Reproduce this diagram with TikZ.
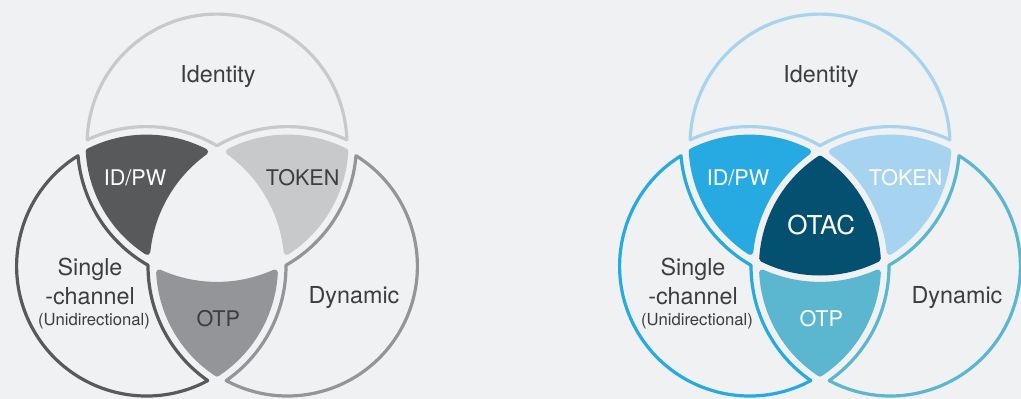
\documentclass[tikz,border=0pt]{standalone}
\usepackage{fontspec}
\setmainfont{TeX Gyre Heros}

\definecolor{bgc}{RGB}{240,241,243}
\definecolor{ink}{RGB}{61,61,63}
\definecolor{gdark}{RGB}{88,89,91}
\definecolor{gmid}{RGB}{147,149,152}
\definecolor{glight}{RGB}{200,201,203}
\definecolor{bblue}{RGB}{39,170,225}
\definecolor{bteal}{RGB}{91,182,207}
\definecolor{blight}{RGB}{166,211,239}
\definecolor{bnavy}{RGB}{3,80,112}

\tikzset{every picture/.style={line width=0.75pt}}
\tikzset{
  lobe/.style={draw=#1, line width=2.4pt, line join=round},
  piece/.style={draw=#1, fill=#1, line width=4.5pt, line join=round},
  lbl/.style={anchor=base, inner sep=0pt, text=ink, font=\fontsize{17.5}{21}\selectfont},
  piecelbl/.style={anchor=base, inner sep=0pt, font=\fontsize{16.2}{19}\selectfont},
  sublbl/.style={anchor=base, inner sep=0pt, text=ink, font=\fontsize{12.5}{15}\selectfont}
}

\begin{document}
\begin{tikzpicture}[x=0.75pt,y=0.75pt,yscale=-1,xscale=1]
    \fill[bgc] (0,0) rectangle (1021,399);
    \useasboundingbox (0,0) rectangle (1021,399);

    %Shape: Identity lobe (grey)
    \draw [lobe=glight] (87.17,139.85) arc [start angle=181.83, end angle=358.17, radius=129.9] arc [start angle=-64.83, end angle=-120.36, radius=139.5] arc [start angle=-59.64, end angle=-115.17, radius=139.5] -- cycle ;
    %Shape: Single-channel lobe (grey)
    \draw [lobe=gdark] (207.83,380.61) arc [start angle=61.83, end angle=238.17, radius=129.9] arc [start angle=175.17, end angle=119.64, radius=139.5] arc [start angle=180.36, end angle=124.83, radius=139.5] -- cycle ;
    %Shape: Dynamic lobe (grey)
    \draw [lobe=gmid] (356.00,155.73) arc [start angle=301.83, end angle=478.17, radius=129.9] arc [start angle=55.17, end angle=-0.36, radius=139.5] arc [start angle=60.36, end angle=4.83, radius=139.5] -- cycle ;
    %Shape: ID/PW piece (grey)
    \path [piece=gdark] (88.71,151.33) arc [start angle=-116.73, end angle=-62.84, radius=128.5] arc [start angle=234.24, end angle=185.76, radius=140.9] arc [start angle=122.84, end angle=176.73, radius=128.5] -- cycle ;
    %Shape: TOKEN piece (grey)
    \path [piece=glight] (345.29,151.33) arc [start angle=3.27, end angle=57.16, radius=128.5] arc [start angle=354.24, end angle=305.76, radius=140.9] arc [start angle=242.84, end angle=296.73, radius=128.5] -- cycle ;
    %Shape: OTP piece (grey)
    \path [piece=gmid] (217,373.53) arc [start angle=123.27, end angle=177.16, radius=128.5] arc [start angle=114.24, end angle=65.76, radius=140.9] arc [start angle=2.84, end angle=56.73, radius=128.5] -- cycle ;

    % Text Node
    \node [lbl] (identA) at (218,82.7) {Identity};
    % Text Node
    \node [piecelbl, text=white] (idpwA) at (135,185.3) {ID/PW};
    % Text Node
    \node [piecelbl, text=ink] (tokenA) at (302.7,185.7) {TOKEN};
    % Text Node
    \node [piecelbl, text=ink] (otpA) at (218.3,326) {OTP};
    % Text Node
    \node [lbl] (dynA) at (354,303.3) {Dynamic};
    % Text Node
    \node [lbl] (singleA) at (90,275.7) {Single};
    % Text Node
    \node [lbl] (chanA) at (90,304) {-channel};
    % Text Node
    \node [sublbl] (unidirA) at (94,325) {(Unidirectional)};

    \begin{scope}[shift={(603,0)}]
    %Shape: Identity lobe (blue)
    \draw [lobe=blight] (87.17,139.85) arc [start angle=181.83, end angle=358.17, radius=129.9] arc [start angle=-64.83, end angle=-120.36, radius=139.5] arc [start angle=-59.64, end angle=-115.17, radius=139.5] -- cycle ;
    %Shape: Single-channel lobe (blue)
    \draw [lobe=bblue] (207.83,380.61) arc [start angle=61.83, end angle=238.17, radius=129.9] arc [start angle=175.17, end angle=119.64, radius=139.5] arc [start angle=180.36, end angle=124.83, radius=139.5] -- cycle ;
    %Shape: Dynamic lobe (blue)
    \draw [lobe=bteal] (356.00,155.73) arc [start angle=301.83, end angle=478.17, radius=129.9] arc [start angle=55.17, end angle=-0.36, radius=139.5] arc [start angle=60.36, end angle=4.83, radius=139.5] -- cycle ;
    %Shape: ID/PW piece (blue)
    \path [piece=bblue] (88.71,151.33) arc [start angle=-116.73, end angle=-62.84, radius=128.5] arc [start angle=234.24, end angle=185.76, radius=140.9] arc [start angle=122.84, end angle=176.73, radius=128.5] -- cycle ;
    %Shape: TOKEN piece (blue)
    \path [piece=blight] (345.29,151.33) arc [start angle=3.27, end angle=57.16, radius=128.5] arc [start angle=354.24, end angle=305.76, radius=140.9] arc [start angle=242.84, end angle=296.73, radius=128.5] -- cycle ;
    %Shape: OTP piece (blue)
    \path [piece=bteal] (217,373.53) arc [start angle=123.27, end angle=177.16, radius=128.5] arc [start angle=114.24, end angle=65.76, radius=140.9] arc [start angle=2.84, end angle=56.73, radius=128.5] -- cycle ;
    %Shape: OTAC centre piece
    \path [piece=bnavy] (217,158.67) arc [start angle=-56.73, end angle=-3.27, radius=128.5] arc [start angle=63.27, end angle=116.73, radius=128.5] arc [start angle=183.27, end angle=236.73, radius=128.5] -- cycle ;

    % Text Node
    \node [lbl] (identB) at (218,82.7) {Identity};
    % Text Node
    \node [piecelbl, text=white] (idpwB) at (135,185.3) {ID/PW};
    % Text Node
    \node [piecelbl, text=white] (tokenB) at (302.7,185.7) {TOKEN};
    % Text Node
    \node [piecelbl, text=white] (otpB) at (218.3,326) {OTP};
    % Text Node
    \node [piecelbl, text=white, font=\fontsize{19.5}{23}\selectfont] (otacB) at (218.3,234.3) {OTAC};
    % Text Node
    \node [lbl] (dynB) at (354,303.3) {Dynamic};
    % Text Node
    \node [lbl] (singleB) at (90,275.7) {Single};
    % Text Node
    \node [lbl] (chanB) at (90,304) {-channel};
    % Text Node
    \node [sublbl] (unidirB) at (94,325) {(Unidirectional)};
    \end{scope}

\end{tikzpicture}
\end{document}
